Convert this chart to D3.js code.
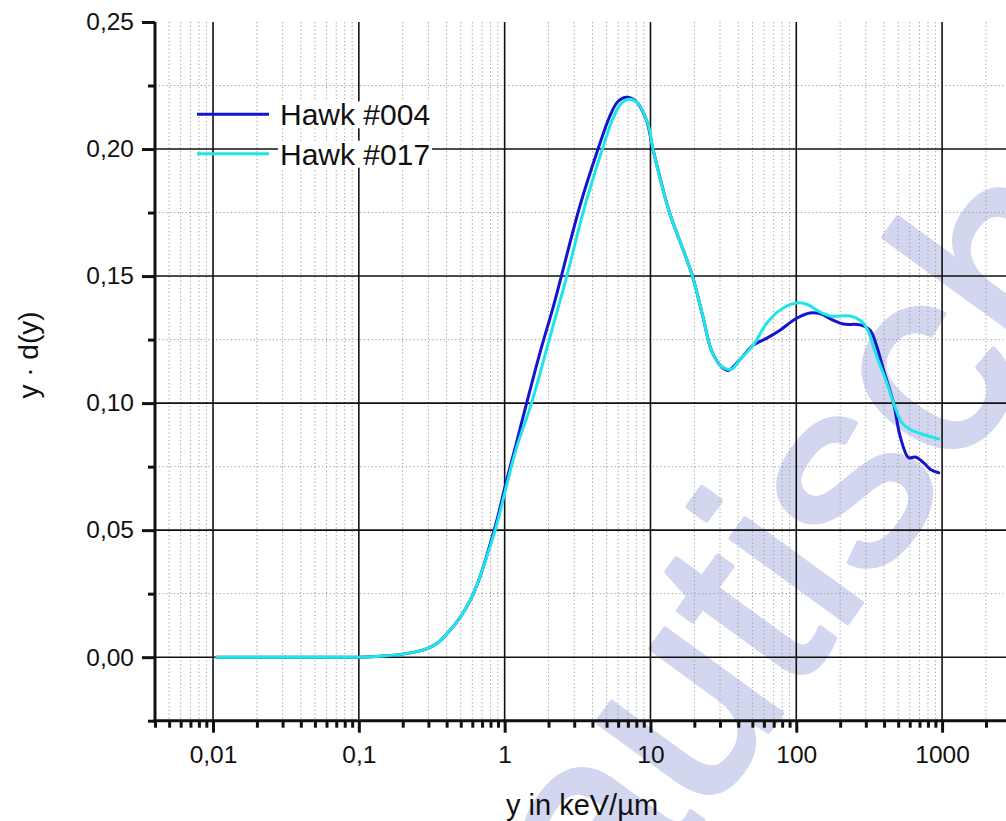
<!DOCTYPE html>
<html>
<head>
<meta charset="utf-8">
<script src="https://cdn.jsdelivr.net/npm/d3@7"></script>
<style>
  html, body { margin: 0; padding: 0; background: #fff; }
  svg { display: block; font-family: "Liberation Sans", Arial, sans-serif; }
</style>
</head>
<body>
<svg id="chart" width="1006" height="821"></svg>
<script>
// Lineal energy spectra y·d(y) for two detector runs
const seriesNames = ["Hawk #004", "Hawk #017"];
const seriesColors = ["#1414d2", "#1fe4e8"];

const hawk004X = [0.0106, 0.03, 0.1, 0.15, 0.2, 0.25, 0.3, 0.35, 0.4, 0.5, 0.6, 0.7, 0.8, 0.9, 1.0, 1.2, 1.415, 1.75, 2.14, 2.45, 3.27, 4.37, 5.25, 5.98, 6.84, 8.0, 9.37, 10.4, 13.5, 16.6, 19.5, 22.9, 26.1, 29.9, 34, 40.9, 50.6, 62.5, 77.3, 100, 124, 145, 180, 210, 274, 321, 357, 397, 465, 516, 590, 656, 748, 832, 948];
const hawk004Y = [0, 0, 0, 0.0005, 0.0012, 0.0022, 0.0036, 0.0058, 0.009, 0.016, 0.024, 0.034, 0.045, 0.0555, 0.0665, 0.084, 0.100, 0.120, 0.1373, 0.150, 0.1773, 0.200, 0.2128, 0.2187, 0.2204, 0.2187, 0.2115, 0.200, 0.175, 0.161, 0.1496, 0.134, 0.121, 0.115, 0.1128, 0.117, 0.1228, 0.1255, 0.1287, 0.1333, 0.1355, 0.1352, 0.1326, 0.1311, 0.1308, 0.1287, 0.1222, 0.113, 0.100, 0.0869, 0.0785, 0.0788, 0.0765, 0.0739, 0.0726];

const hawk017X = [0.0106, 0.03, 0.1, 0.15, 0.2, 0.25, 0.3, 0.35, 0.4, 0.5, 0.6, 0.7, 0.8, 0.9, 1.0, 1.2, 1.53, 2.0, 2.32, 2.67, 3.54, 4.68, 5.53, 6.31, 7.2, 8.2, 9.6, 10.4, 13.5, 16.6, 19.5, 22.9, 26.1, 29.9, 35.9, 40.9, 50.6, 62.5, 77.3, 100, 118, 145, 171, 234, 274, 305, 357, 419, 465, 531, 605, 748, 948];
const hawk017Y = [0, 0, 0, 0.0005, 0.0012, 0.0022, 0.0036, 0.0058, 0.009, 0.016, 0.024, 0.034, 0.044, 0.054, 0.0645, 0.082, 0.100, 0.124, 0.1373, 0.150, 0.1773, 0.200, 0.2121, 0.218, 0.2196, 0.218, 0.210, 0.200, 0.175, 0.161, 0.1496, 0.134, 0.121, 0.115, 0.1133, 0.117, 0.1228, 0.1313, 0.1366, 0.1394, 0.1389, 0.1359, 0.1343, 0.1343, 0.1326, 0.1294, 0.1183, 0.1078, 0.100, 0.0922, 0.0896, 0.0876, 0.0859];

const xMajorTicks = [0.01, 0.1, 1, 10, 100, 1000];
const xTickLabels = ["0,01", "0,1", "1", "10", "100", "1000"];
const yMajorTicks = [0, 0.05, 0.10, 0.15, 0.20, 0.25];
const yTickLabels = ["0,00", "0,05", "0,10", "0,15", "0,20", "0,25"];
const yMinorTicks = [-0.025, 0.025, 0.075, 0.125, 0.175, 0.225];

const xTitle = "y in keV/\u00b5m";
const yTitle = "y \u00b7 d(y)";
const watermarkText = "Nautisch";

const svg = d3.select("#chart");
svg.append("rect").attr("width", 1006).attr("height", 821).attr("fill", "#fff");

const plotLeft = 155, plotTop = 22, plotBottom = 720.7, plotRight = 1044;
const x = d3.scaleLog().domain([0.004, 5000]).range([plotLeft, plotRight]);
const y = d3.scaleLinear().domain([-0.025, 0.25]).range([plotBottom, plotTop]);

// minor decade positions 2..9 over the visible domain
const xMinorTicks = [];
for (let e = -3; e <= 3; e++) {
  for (let k = 2; k <= 9; k++) {
    const v = k * Math.pow(10, e);
    if (v >= 0.004 && v <= 5000) xMinorTicks.push(+v.toPrecision(3));
  }
}

// watermark behind the plot
svg.append("text")
  .attr("transform", "translate(499,1102) rotate(-54)")
  .attr("font-size", 272)
  .attr("fill", "#d3d6ef")
  .attr("stroke", "#d3d6ef").attr("stroke-width", 5).attr("stroke-linejoin", "round")
  .text(watermarkText);

const grid = svg.append("g");
grid.selectAll(".vmin").data(xMinorTicks).join("line")
  .attr("x1", d => x(d)).attr("x2", d => x(d))
  .attr("y1", plotTop).attr("y2", plotBottom)
  .attr("stroke", "#9a9a9a").attr("stroke-width", 1)
  .attr("stroke-dasharray", "1.2,2.6");
grid.selectAll(".hmin").data(yMinorTicks.filter(d => d > 0)).join("line")
  .attr("x1", plotLeft).attr("x2", 1006)
  .attr("y1", d => y(d)).attr("y2", d => y(d))
  .attr("stroke", "#9a9a9a").attr("stroke-width", 1)
  .attr("stroke-dasharray", "1.2,2.6");
grid.selectAll(".vmaj").data(xMajorTicks).join("line")
  .attr("x1", d => x(d)).attr("x2", d => x(d))
  .attr("y1", plotTop).attr("y2", plotBottom)
  .attr("stroke", "#111").attr("stroke-width", 1.6);
grid.selectAll(".hmaj").data(yMajorTicks.filter(d => d < 0.25)).join("line")
  .attr("x1", plotLeft).attr("x2", 1006)
  .attr("y1", d => y(d)).attr("y2", d => y(d))
  .attr("stroke", "#111").attr("stroke-width", 1.6);

// axes
const xAxisMajor = d3.axisBottom(x).tickValues(xMajorTicks)
  .tickFormat((d, i) => xTickLabels[i]).tickSize(12).tickPadding(13);
const xAxisMinor = d3.axisBottom(x).tickValues(xMinorTicks)
  .tickFormat("").tickSize(7);
const yAxisMajor = d3.axisLeft(y).tickValues(yMajorTicks)
  .tickFormat((d, i) => yTickLabels[i]).tickSize(13).tickPadding(8);
const yAxisMinor = d3.axisLeft(y).tickValues(yMinorTicks)
  .tickFormat("").tickSize(7);

function styleAxis(g) {
  g.select(".domain").remove();
  g.selectAll(".tick line").attr("stroke", "#111").attr("stroke-width", 3);
  g.selectAll(".tick text").attr("fill", "#111").attr("font-size", 24.5)
    .attr("font-family", "'Liberation Sans', Arial, sans-serif");
}
svg.append("g").attr("transform", `translate(0,${plotBottom})`).call(xAxisMinor).call(styleAxis);
svg.append("g").attr("transform", `translate(0,${plotBottom})`).call(xAxisMajor).call(styleAxis);
svg.append("g").attr("transform", `translate(${plotLeft},0)`).call(yAxisMinor).call(styleAxis);
svg.append("g").attr("transform", `translate(${plotLeft},0)`).call(yAxisMajor).call(styleAxis);

svg.append("line").attr("x1", plotLeft).attr("x2", plotLeft).attr("y1", plotTop).attr("y2", plotBottom + 1.5)
  .attr("stroke", "#111").attr("stroke-width", 3);
svg.append("line").attr("x1", plotLeft - 1.5).attr("x2", 1006).attr("y1", plotBottom).attr("y2", plotBottom)
  .attr("stroke", "#111").attr("stroke-width", 3);

// curves
const series = [
  hawk004X.map((v, i) => [v, hawk004Y[i]]),
  hawk017X.map((v, i) => [v, hawk017Y[i]])
];
const line = d3.line().x(d => x(d[0])).y(d => y(d[1])).curve(d3.curveCatmullRom.alpha(0.5));
series.forEach((s, i) => {
  svg.append("path").datum(s).attr("d", line)
    .attr("fill", "none").attr("stroke", seriesColors[i])
    .attr("stroke-width", 3).attr("stroke-linejoin", "round").attr("stroke-linecap", "round");
});

// legend
const legendRows = [114.3, 153.7];
seriesNames.forEach((name, i) => {
  const g = svg.append("g");
  const bg = g.append("rect").attr("fill", "#fff");
  const t = g.append("text").attr("x", 280).attr("y", legendRows[i] + 11)
    .attr("font-size", 30).attr("fill", "#111").text(name);
  const bb = t.node().getBBox();
  bg.attr("x", bb.x - 2).attr("y", bb.y + 3).attr("width", bb.width + 4).attr("height", bb.height - 6);
  svg.append("line").attr("x1", 197).attr("x2", 269)
    .attr("y1", legendRows[i]).attr("y2", legendRows[i])
    .attr("stroke", seriesColors[i]).attr("stroke-width", 3);
});

// axis titles
svg.append("text").attr("x", 582).attr("y", 815).attr("text-anchor", "middle")
  .attr("font-size", 29).attr("fill", "#111").text(xTitle);
svg.append("text").attr("transform", "translate(38,355) rotate(-90)")
  .attr("text-anchor", "middle").attr("font-size", 28).attr("fill", "#111").text(yTitle);
</script>
</body>
</html>
